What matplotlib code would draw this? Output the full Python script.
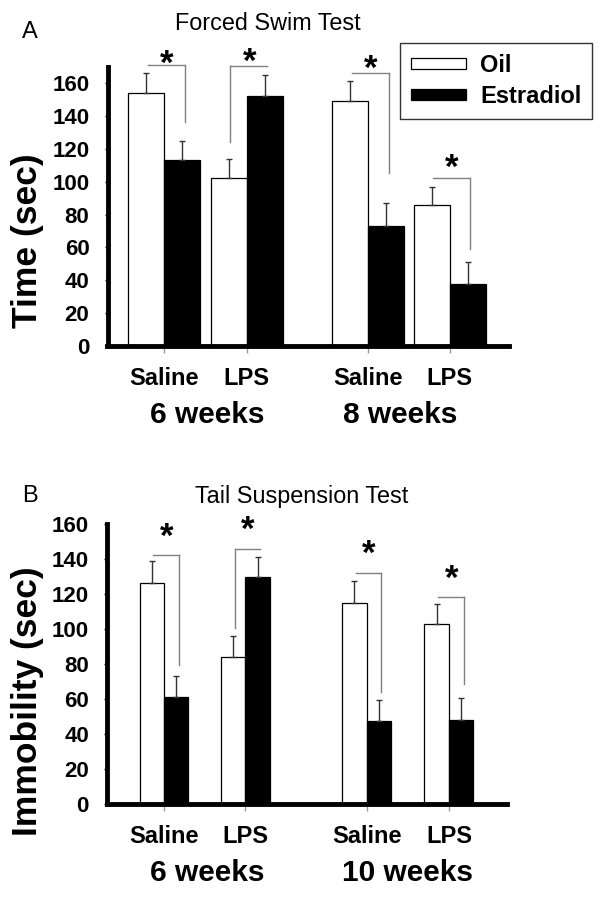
import matplotlib
matplotlib.use("Agg")
import matplotlib.pyplot as plt
import numpy as np

plt.rcParams['font.family'] = ['Liberation Sans', 'DejaVu Sans']

# ---------------- data ----------------
series = ["Oil", "Estradiol"]
treatments = ["Saline", "LPS", "Saline", "LPS"]
weeks_fst = ["6 weeks", "8 weeks"]
weeks_tst = ["6 weeks", "10 weeks"]
yticks = [0, 20, 40, 60, 80, 100, 120, 140, 160]

fst_oil = [154, 102, 149, 86]
fst_oil_sem = [12, 12, 12, 11]
fst_estradiol = [113, 152, 73, 38]
fst_estradiol_sem = [12, 13, 14, 13]

tst_oil = [126.5, 84, 115, 102.7]
tst_oil_sem = [12.2, 12.2, 12.3, 11.8]
tst_estradiol = [61, 130, 47.7, 48.2]
tst_estradiol_sem = [12, 11, 12, 12.2]

# significance brackets (data units)
fst_bracket_top = [171, 170.4, 166, 102]
fst_bracket_leg = [136.5, 124, 105, 59]
fst_leg_side = ["right", "left", "right", "right"]
fst_star_y = [177, 178.5, 174, 114]

tst_bracket_top = [142.3, 145.7, 131.8, 118.1]
tst_bracket_leg = [79.4, 100.7, 64.2, 68.4]
tst_leg_side = ["right", "left", "right", "right"]
tst_star_y = [157.7, 161.9, 148, 133.7]

# ---------------- layout ----------------
W, H = 604, 897
fig = plt.figure(figsize=(W / 100, H / 100), dpi=100)


def ax_rect(left_px, right_px, top_px, bottom_px):
    return [left_px / W, 1 - bottom_px / H, (right_px - left_px) / W, (bottom_px - top_px) / H]


def draw_panel(ax, pos, width, xlim, ymax, oil, oil_sem, est, est_sem,
               br_top, br_leg, br_side, star_y, weeks, week_shift, ylabel, label_xy):
    pos = np.asarray(pos, dtype=float)
    n = len(pos)
    b1 = ax.bar(pos - width / 2, oil, width, color='white', edgecolor='black',
                linewidth=0.9, zorder=2)
    b2 = ax.bar(pos + width / 2, est, width, color='black', edgecolor='black',
                linewidth=0.9, zorder=2)
    ax.errorbar(pos - width / 2, oil, yerr=[np.zeros(n), oil_sem], fmt='none',
                ecolor='#333333', elinewidth=1, capsize=2.3, capthick=1, zorder=3)
    ax.errorbar(pos + width / 2, est, yerr=[np.zeros(n), est_sem], fmt='none',
                ecolor='#333333', elinewidth=1, capsize=2.3, capthick=1, zorder=3)

    for i in range(n):
        x0 = pos[i] - width / 2 + 0.02
        x1 = pos[i] + width / 2 + 0.03
        xl = x1 if br_side[i] == "right" else x0
        ax.plot([x0, x1], [br_top[i], br_top[i]], color='#808080', lw=1,
                clip_on=False, zorder=4)
        ax.plot([xl, xl], [br_top[i], br_leg[i]], color='#808080', lw=1,
                clip_on=False, zorder=4)
        ax.annotate('*', xy=(pos[i] + 0.03, star_y[i]), xytext=(0, -13.5),
                    textcoords='offset points', ha='center', va='baseline',
                    fontsize=25, fontweight='bold', annotation_clip=False)

    ax.set_xlim(*xlim)
    ax.set_ylim(0, ymax)
    ax.set_yticks(yticks)
    ax.set_yticklabels([str(t) for t in yticks], fontsize=16, fontweight='bold')
    ax.tick_params(axis='y', length=2, width=1, pad=11)
    ax.set_xticks(pos)
    ax.set_xticklabels([])
    ax.tick_params(axis='x', length=5, width=1, color='#999999')
    for s in ['top', 'right']:
        ax.spines[s].set_visible(False)
    for s in ['left', 'bottom']:
        ax.spines[s].set_linewidth(3.5)
        ax.spines[s].set_capstyle('projecting')

    for i in range(n):
        ax.annotate(treatments[i], xy=(pos[i], 0), xycoords=('data', 'axes fraction'),
                    xytext=(0, -28.3), textcoords='offset points', ha='center',
                    va='baseline', fontsize=17, fontweight='bold', annotation_clip=False)
    for g in range(2):
        xc = (pos[2 * g] + pos[2 * g + 1]) / 2
        ax.annotate(weeks[g], xy=(xc, 0), xycoords=('data', 'axes fraction'),
                    xytext=(week_shift[g], -55.5), textcoords='offset points', ha='center',
                    va='baseline', fontsize=21.5, fontweight='bold', annotation_clip=False)

    ax.set_ylabel(ylabel, fontsize=25.5, fontweight='bold', va='center')
    ax.yaxis.set_label_coords(*label_xy)
    return b1, b2


# Panel A
axA = fig.add_axes(ax_rect(107.5, 509, 66.7, 346))
bA1, bA2 = draw_panel(axA, [0, 1, 2.47, 3.46], 0.437, (-0.69, 4.18), 170,
                      fst_oil, fst_oil_sem, fst_estradiol, fst_estradiol_sem,
                      fst_bracket_top, fst_bracket_leg, fst_leg_side, fst_star_y,
                      weeks_fst, (1.5, -6), "Time (sec)", (-0.200, 0.376))

# Panel B
axB = fig.add_axes(ax_rect(107, 506.7, 524, 804))
draw_panel(axB, [0, 1, 2.49, 3.50], 0.30, (-0.70, 4.21), 160,
           tst_oil, tst_oil_sem, tst_estradiol, tst_estradiol_sem,
           tst_bracket_top, tst_bracket_leg, tst_leg_side, tst_star_y,
           weeks_tst, (1.5, 0), "Immobility (sec)", (-0.200, 0.368))

leg = axA.legend(handles=[bA1, bA2], labels=series, loc='upper right',
                 bbox_to_anchor=(592 / W, 1 - 43 / H), bbox_transform=fig.transFigure,
                 frameon=True, fancybox=False, edgecolor='#333333', framealpha=1,
                 borderaxespad=0, prop={'size': 17, 'weight': 'bold'},
                 handlelength=2.33, handleheight=0.35, handletextpad=0.6,
                 labelspacing=0.35, borderpad=0.45)
leg.get_frame().set_linewidth(1)

fig.text(268 / W, 1 - 30 / H, "Forced Swim Test", ha='center', va='baseline', fontsize=16.8)
fig.text(30 / W, 1 - 38 / H, "A", ha='center', va='baseline', fontsize=17)
fig.text(302 / W, 1 - 502.5 / H, "Tail Suspension Test", ha='center', va='baseline', fontsize=16.8)
fig.text(29.5 / W, 1 - 502 / H, "B", ha='center', va='baseline', fontsize=17)

fig.savefig("out.png", dpi=100)
